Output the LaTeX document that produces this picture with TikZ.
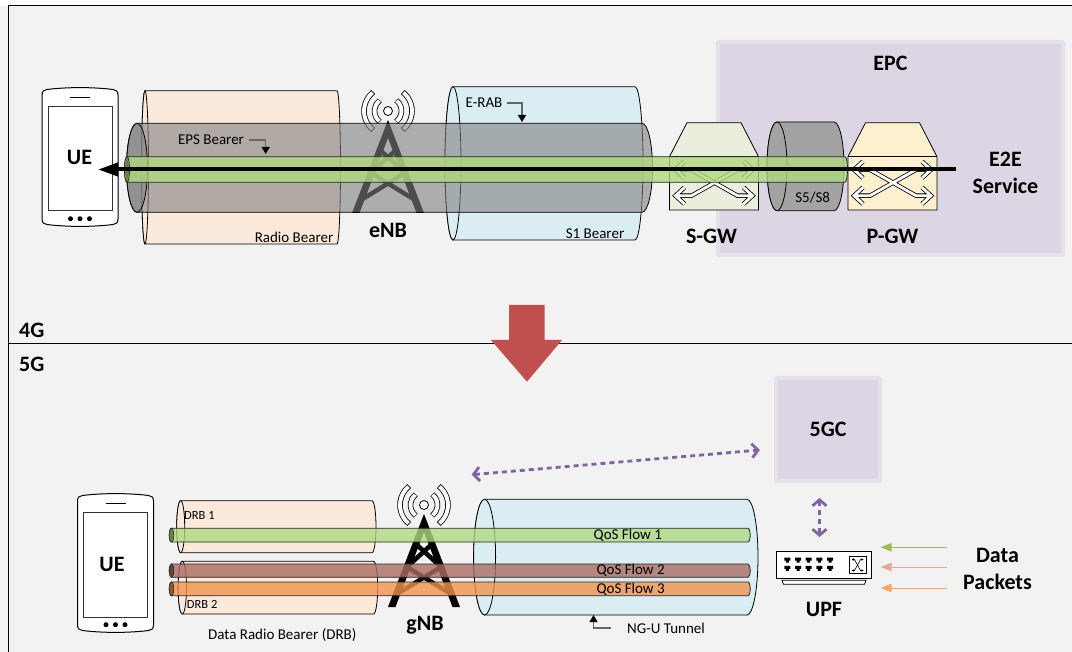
\documentclass[tikz,border=0pt]{standalone}
\usepackage{fontspec}
\setmainfont{Carlito}
\usetikzlibrary{arrows.meta}
\definecolor{pagebg}{HTML}{F2F2F2}
\definecolor{peachfill}{HTML}{FBE9DC}
\definecolor{tunnelfill}{HTML}{DAEDF3}
\definecolor{corefill}{HTML}{DCD6E4}
\definecolor{coreedge}{HTML}{E5E1EB}
\definecolor{flowgreen}{HTML}{AFD97F}
\definecolor{flowred}{HTML}{AA6E64}
\definecolor{floworange}{HTML}{F2934D}
\definecolor{linkpurple}{HTML}{8064A2}
\definecolor{blockred}{HTML}{C0504D}
\definecolor{sgwfill}{HTML}{E9EFDC}
\definecolor{pgwfill}{HTML}{FDF0CF}
\definecolor{pktgreen}{HTML}{9BBB59}
\definecolor{pktpink}{HTML}{E6A79B}
\definecolor{pktorange}{HTML}{F9A65E}
\tikzset{
  smalltxt/.style={inner sep=0pt,font=\fontsize{15}{18}\selectfont},
  tinytxt/.style={inner sep=0pt,font=\fontsize{12.5}{15}\selectfont},
  boldtxt/.style={inner sep=0pt,align=center,font=\fontsize{22}{27}\selectfont\bfseries},
  corebox/.style={fill=corefill,draw=coreedge,line width=4pt,rounded corners=1pt,inner sep=0pt},
  peachpipe/.style={draw=black,line width=.8pt,fill=peachfill},
  tunnelpipe/.style={draw=black,line width=.8pt,fill=tunnelfill},
  greypipe/.style={draw=black,line width=.8pt,fill=gray,fill opacity=.6},
  flowpipe/.style={draw=black!85,line width=.8pt,fill=#1,fill opacity=.8},
  linkdash/.style={linkpurple,line width=2.8pt,dash pattern=on 5pt off 4pt,
    {Straight Barb[length=6pt,width=14pt]}-{Straight Barb[length=6pt,width=14pt]}},
  noteline/.style={black!60,line width=1.3pt,-{Triangle[length=7pt,width=8pt,black]}},
  pics/handset/.style={code={
    \draw[fill=white,line width=1pt] (0,8) .. controls (0,4) and (2,3) .. (5,2.5)
      .. controls (25,0) and (51,0) .. (71,2.5) .. controls (74,3) and (76,4) .. (76,8)
      -- (76,132) .. controls (76,136) and (74,137) .. (71,137.5)
      .. controls (51,140) and (25,140) .. (5,137.5) .. controls (2,137) and (0,136) .. (0,132) -- cycle;
    \draw[black!80,line width=1pt] (6,19.5) rectangle (70,124);
    \draw[line width=1pt] (28,10.7) -- (48,10.7);
    \foreach \dotx in {28.5,38,47.5}
      \fill (\dotx,131.7) circle (2.5);
  }},
  pics/mast/.style={code={
    \fill (0,0) -- (36,93) -- (28.5,93) -- (0,18) -- (-28.5,93) -- (-36,93) -- cycle;
    \foreach \s in {-1,1} {
      \draw[line width=4.5pt] ({-8*\s},30) -- ({17*\s},53);
      \draw[line width=4.5pt] ({-17*\s},53) -- ({27*\s},80);
    }
    \foreach \r in {13.5,24} \foreach \a in {128,-52} {
      \draw[line width=5.5pt] ([shift={(0,-9)}]\a:\r) arc[start angle=\a,end angle=\a+104,radius=\r];
      \draw[white,line width=3.9pt] ([shift={(0,-9)}]\a+2:\r) arc[start angle=\a+2,end angle=\a+102,radius=\r];
    }
    \draw[fill=white,line width=.8pt] (0,-9) circle (4.5);
  }},
  pics/gateway/.style={code={
    \draw[fill=#1,line width=.8pt] (0,0) -- (17.5,-34) -- (71.5,-34) -- (89,0) -- (89,53.3) -- (0,53.3) -- cycle;
    \draw[line width=.8pt] (0,0) -- (89,0);
    \draw[double=white,double distance=2.8pt,line width=.8pt]
      (6,13) -- (22,13) -- (68,39) -- (83,39)
      (6,39) -- (22,39) -- (68,13) -- (83,13)
      (15,4.7) -- (6,13) -- (15,21.3)
      (15,30.7) -- (6,39) -- (15,47.3)
      (74,4.7) -- (83,13) -- (74,21.3)
      (74,30.7) -- (83,39) -- (74,47.3);
  }}
}
\newcommand{\bearerpipe}[6][]{
  \draw[#1] (#2,#4) -- (#3,#4) arc[start angle=-90,end angle=90,x radius=#6,y radius={(#5-#4)/2}]
    -- (#2,#5) arc[start angle=90,end angle=270,x radius=#6,y radius={(#5-#4)/2}] -- cycle;
  \draw[#1] (#2,{(#4+#5)/2}) ellipse[x radius=#6,y radius={(#5-#4)/2}];
}
\begin{document}
\begin{tikzpicture}[x=1pt,y=-1pt]
  \useasboundingbox (0,0) rectangle (1072,652);
  \fill[pagebg] (0,0) rectangle (1072,652);
  \fill[white] (0,0) rectangle (1072,6);
  \draw[line width=1pt] (8,652) -- (8,6) -- (1072,6);
  \draw[line width=1pt] (8,343.5) -- (1072,343.5);
  \node[boldtxt,anchor=west] (tagfour) at (19,330) {4G};
  \node[boldtxt,anchor=west] (tagfive) at (19,364) {5G};

  \node[corebox,minimum width=345pt,minimum height=213pt] (epcbox) at (890.5,148.5) {};
  \node[boldtxt] (epclbl) at (890.5,63.5) {EPC};

  \pic at (42,87) {handset};
  \node[boldtxt] (uefour) at (79.5,157.5) {UE};
  \bearerpipe[tunnelpipe]{453}{635}{86.7}{240}{8}
  \bearerpipe[peachpipe]{145}{337}{90.7}{244}{3.5}
  \pic at (388,120) {mast};
  \bearerpipe[greypipe]{137}{642}{123.3}{212.3}{10.5}
  \pic at (669.5,156.7) {gateway=sgwfill};
  \pic at (848,156.7) {gateway=pgwfill};
  \bearerpipe[draw=black,line width=.8pt,fill=black!36]{777}{834}{122}{210.7}{10}
  \bearerpipe[flowpipe=flowgreen]{127}{845}{156.7}{182.3}{2.5}
  \fill[flowgreen!60!black] (127,169.5) ellipse[x radius=2,y radius=12];
  \coordinate (e2estart) at (956,169.5);
  \coordinate (uetip) at (98,169.5);
  \draw[line width=4pt,-{Triangle[length=20pt,width=13pt]}] (e2estart) -- (uetip);

  \node[smalltxt] (epslbl) at (211,140) {EPS Bearer};
  \coordinate (epstip) at (265.7,154);
  \draw[noteline] ([xshift=5pt]epslbl.east) -| (epstip);
  \node[smalltxt] (eraplbl) at (484,103) {E-RAB};
  \coordinate (eraptip) at (522,122);
  \draw[noteline] ([xshift=4pt]eraplbl.east) -| (eraptip);
  \node[smalltxt] (radiolbl) at (294,237.5) {Radio Bearer};
  \node[smalltxt] (sonelbl) at (595,233.5) {S1 Bearer};
  \node[smalltxt] (sfivelbl) at (812.7,198) {S5/S8};
  \node[boldtxt] (enblbl) at (388,230.5) {eNB};
  \node[boldtxt] (sgwlbl) at (711.5,236.5) {S-GW};
  \node[boldtxt] (pgwlbl) at (892.5,236.5) {P-GW};
  \node[boldtxt] (e2elbl) at (1005.5,172.5) {E2E\\Service};

  \fill[blockred] (509,305) -- (544.5,305) -- (544.5,340) -- (562,340) -- (527,381.7)
    -- (491,340) -- (509,340) -- cycle;

  \node[corebox,minimum width=104pt,minimum height=103pt] (ngcbox) at (828,429.5) {};
  \node[boldtxt] (ngclbl) at (828,429) {5GC};
  \coordinate (linkgnb) at (471.7,474.7);
  \coordinate (linkcore) at (759.8,450);
  \draw[linkdash] (linkgnb) -- (linkcore);
  \coordinate (linkup) at (819.5,498);
  \coordinate (linkdown) at (819.5,537);
  \draw[linkdash] (linkup) -- (linkdown);

  \pic at (77.5,493) {handset};
  \node[boldtxt] (uefive) at (112,564.5) {UE};
  \bearerpipe[peachpipe]{180.7}{372}{500.7}{552.7}{4}
  \bearerpipe[peachpipe]{182.3}{373.5}{561.3}{614}{4.2}
  \bearerpipe[tunnelpipe]{484.6}{747}{499.3}{615}{11}
  \pic at (424,514) {mast};
  \foreach \ytop/\ybot/\flowcol in {528.3/542/flowgreen,564/577.3/flowred,582/595.7/floworange} {
    \bearerpipe[flowpipe=\flowcol]{171.5}{748}{\ytop}{\ybot}{2.2}
    \fill[\flowcol!60!black] (171.5,{(\ytop+\ybot)/2}) ellipse[x radius=2,y radius=6];
  }
  \node[smalltxt] (flowone) at (627.8,535) {QoS Flow 1};
  \node[smalltxt] (flowtwo) at (630.6,570) {QoS Flow 2};
  \node[smalltxt] (flowthree) at (630.6,589) {QoS Flow 3};
  \node[tinytxt,anchor=west] (drbone) at (184,515) {DRB 1};
  \node[tinytxt,anchor=west] (drbtwo) at (186.7,604.3) {DRB 2};
  \node[smalltxt] (drblbl) at (282.3,635) {Data Radio Bearer (DRB)};
  \node[boldtxt] (gnblbl) at (425,625) {gNB};
  \node[smalltxt] (tunnellbl) at (666,628) {NG-U Tunnel};
  \coordinate (tunneltip) at (593.5,615);
  \draw[noteline] ([xshift=-16pt]tunnellbl.west) -| (tunneltip);

  \node[draw,fill=white,line width=1pt,inner sep=0pt,minimum width=95.4pt,minimum height=27.4pt] (upfbox) at (824,565) {};
  \draw[fill=white,line width=.8pt] (782,580.3) -- (866,580.3) -- (864.5,584.3) -- (783.5,584.3) -- cycle;
  \foreach \px in {787.3,798,808.7,819.3,830} \foreach \py in {560,568.3}
    \fill[shift={(\px,\py)}] (-3,-2.5) -- (3,-2.5) -- (3,.5) -- (1.5,.5) -- (1.5,2.5) -- (-1.5,2.5) -- (-1.5,.5) -- (-3,.5) -- cycle;
  \draw[fill=white,line width=.8pt] (849.3,556.7) rectangle (866,573.3);
  \draw[line width=.6pt,{Latex[length=2.5pt,width=2.5pt]}-{Latex[length=2.5pt,width=2.5pt]}] (851.5,559.5) -- (854.5,559.5) -- (860.5,570.5) -- (863.8,570.5);
  \draw[line width=.6pt,{Latex[length=2.5pt,width=2.5pt]}-{Latex[length=2.5pt,width=2.5pt]}] (851.5,570.5) -- (854.5,570.5) -- (860.5,559.5) -- (863.8,559.5);
  \node[boldtxt] (upflbl) at (824,609.5) {UPF};
  \node[boldtxt] (pktlbl) at (997.5,568.5) {Data\\Packets};
  \foreach \yp/\pktcol/\pktname in {547.3/pktgreen/a,567/pktpink/b,588/pktorange/c} {
    \coordinate (pktin\pktname) at (946.7,\yp);
    \coordinate (pktout\pktname) at (880.7,\yp);
    \draw[line width=1pt,\pktcol,-{Triangle[length=11pt,width=8.5pt]}] (pktin\pktname) -- (pktout\pktname);
  }
\end{tikzpicture}
\end{document}
